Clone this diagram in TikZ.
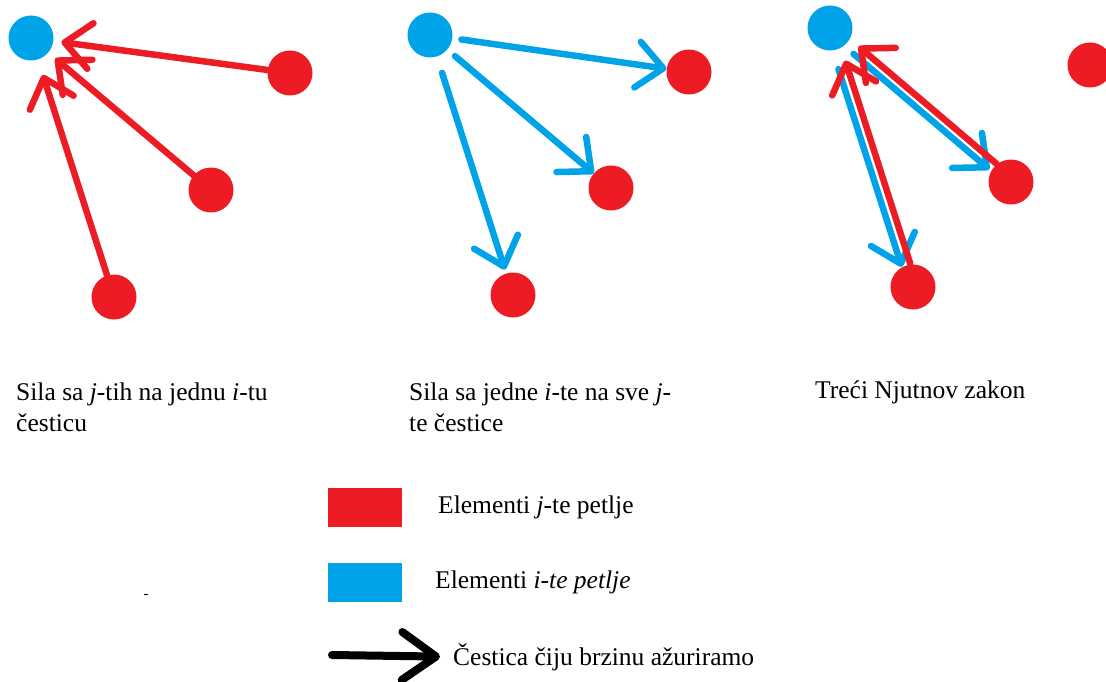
\documentclass[tikz,border=0pt]{standalone}
\usepackage{fontspec}
\setmainfont{Liberation Serif}
\usetikzlibrary{arrows.meta}
\definecolor{jred}{HTML}{ED1C24}
\definecolor{iblue}{HTML}{00A2E8}
\tikzset{
  jdot/.style={circle, fill=jred, minimum size=45pt, inner sep=0pt},
  idot/.style={circle, fill=iblue, minimum size=45pt, inner sep=0pt},
  barb/.style={-{Straight Barb[round,length=26pt,width=46pt]}, line width=6.5pt, line cap=round},
  jforce/.style={barb, draw=jred},
  iforce/.style={barb, draw=iblue},
  lbl/.style={anchor=base west, align=left, inner sep=0pt, font=\fontsize{25.5}{31}\selectfont}
}
\begin{document}
\begin{tikzpicture}[x=1pt,y=-1pt]
\useasboundingbox (0,0) rectangle (1106,682);

\node [idot] (b1) at (31,38) {};
\node [jdot] (r11) at (290,73) {};
\node [jdot] (r12) at (211,190) {};
\node [jdot] (r13) at (114,297) {};
\draw [jforce, shorten >=8pt] (r11) -- (b1);
\draw [jforce, shorten >=9pt] (r12) -- (b1);
\draw [jforce, shorten >=16pt] (r13) -- (b1);

\node [idot] (b2) at (430,35) {};
\node [jdot] (r21) at (689,72) {};
\node [jdot] (r22) at (611,188) {};
\node [jdot] (r23) at (513,295) {};
\draw [iforce, shorten <=9pt] (b2) -- (r21);
\draw [iforce, shorten <=10pt] (b2) -- (r22);
\draw [iforce, shorten <=17pt, shorten >=4pt] (b2) -- (r23);

\node [idot] (b3) at (830,28) {};
\node [jdot] (r31) at (1090,65) {};
\node [jdot] (r32) at (1011,182) {};
\node [jdot] (r33) at (913,287) {};
\draw [iforce, shorten <=12pt, shorten >=2pt, transform canvas={shift={(-2.9pt,-3.4pt)}}] (b3) -- (r32);
\draw [jforce, shorten >=11pt, transform canvas={shift={(2.9pt,3.4pt)}}] (r32) -- (b3);
\draw [iforce, shorten <=19pt, transform canvas={shift={(-4.3pt,-1.4pt)}}] (b3) -- (r33);
\draw [jforce, shorten >=13pt, transform canvas={shift={(4.3pt,1.4pt)}}] (r33) -- (b3);

\node [lbl] (cap1) at (16,431) {Sila sa \textit{j}-tih na jednu \textit{i}-tu\\česticu};
\node [lbl] (cap2) at (409,431) {Sila sa jedne \textit{i}-te na sve \textit{j}-\\te čestice};
\node [lbl] (cap3) at (815,398) {Treći Njutnov zakon};

\node [fill=jred, minimum width=74pt, minimum height=39pt, inner sep=0pt] (jkey) at (365,507) {};
\node [lbl] (jtxt) at (438,513) {Elementi \textit{j}-te petlje};
\node [fill=iblue, minimum width=74pt, minimum height=39pt, inner sep=0pt] (ikey) at (365,582) {};
\node [lbl] (itxt) at (435,588) {Elementi \textit{i-te petlje}};
\node [inner sep=0pt, font=\fontsize{15}{18}\selectfont] (dash) at (146,596) {-};

\coordinate (atail) at (332,655);
\node [lbl] (atxt) at (453,665) {Čestica čiju brzinu ažuriramo};
\draw [-{Straight Barb[round,length=34pt,width=48pt]}, line width=8pt, line cap=round, shorten >=13pt] (atail) -- (atxt.west);
\end{tikzpicture}
\end{document}
